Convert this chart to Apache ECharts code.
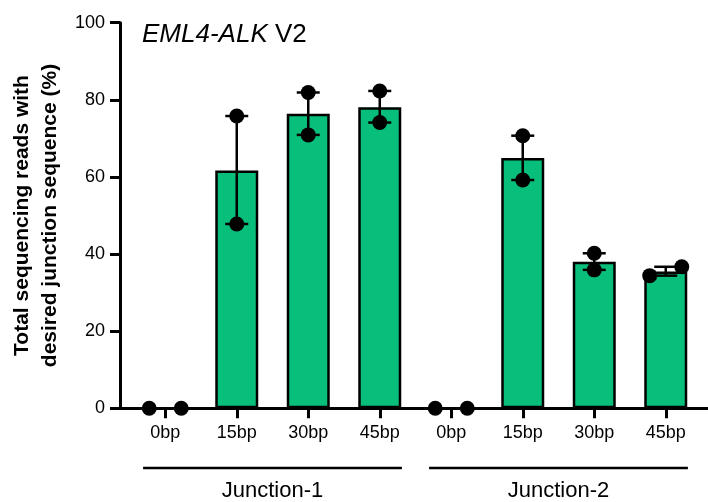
<!DOCTYPE html>
<html><head><meta charset="utf-8">
<script src="https://cdn.jsdelivr.net/npm/echarts@6/dist/echarts.min.js"></script>
<style>html,body{margin:0;padding:0;background:#fff}#c{width:708px;height:502px}</style>
</head><body><div id="c"></div>
<script>
// ---- data ----
const categories = ['0bp','15bp','30bp','45bp','0bp','15bp','30bp','45bp'];
const groupNames = ['Junction-1','Junction-2'];
const groupStart = [0, 4];
const groupEnd = [3, 7];
const means = [0, 61.7, 76.4, 78.1, 0, 64.9, 38.0, 35.5];
const rep1 = [0, 75.8, 81.9, 82.3, 0, 70.7, 40.2, 34.4];
const rep2 = [0, 47.8, 70.9, 74.1, 0, 59.2, 35.9, 36.7];
const yTicks = [0, 20, 40, 60, 80, 100];
const titleItalic = 'EML4-ALK';
const titleRest = ' V2';
const yName = 'Total sequencing reads with\ndesired junction sequence (%)';

const FONT = '"Liberation Sans", Arial, sans-serif';
const chart = echarts.init(document.getElementById('c'));

const barData = means.map((v, i) => [i, v]);
const errData = means.map((v, i) => [i, Math.min(rep1[i], rep2[i]), Math.max(rep1[i], rep2[i])]);
const JIT = 0.224;
const dots = [];
rep1.forEach((a, i) => {
  const b = rep2[i];
  const lo = Math.min(a, b), hi = Math.max(a, b);
  if (hi - lo < 4) { dots.push([i - JIT, lo], [i + JIT, hi]); }
  else { dots.push([i, a], [i, b]); }
});

const GT = 22.7, GB = 93.7;
chart.setOption({
  animation: false,
  backgroundColor: '#fff',
  grid: [
    {left: 117, right: 0, top: GT, bottom: GB},
    {left: 129.5, right: 6.5, top: GT, bottom: GB}
  ],
  xAxis: [
    {gridIndex: 0, type: 'value', min: 0, max: 1,
     axisLine: {show: true, onZero: false, lineStyle: {color: '#000', width: 3}},
     axisTick: {show: false}, axisLabel: {show: false}, splitLine: {show: false}},
    {gridIndex: 1, type: 'category', data: categories, boundaryGap: true,
     axisLine: {show: false},
     axisTick: {show: true, alignWithLabel: true, length: 10, lineStyle: {color: '#000', width: 3}},
     axisLabel: {color: '#000', fontSize: 18, fontFamily: FONT, margin: 16, interval: 0},
     splitLine: {show: false}},
    {gridIndex: 1, type: 'value', min: -0.5, max: categories.length - 0.5, show: false}
  ],
  yAxis: [
    {gridIndex: 0, type: 'value', min: yTicks[0], max: yTicks[yTicks.length - 1], interval: yTicks[1] - yTicks[0],
     axisLine: {show: true, onZero: false, lineStyle: {color: '#000', width: 3}},
     axisTick: {show: true, length: 10, lineStyle: {color: '#000', width: 3}},
     axisLabel: {color: '#000', fontSize: 18, fontFamily: FONT, margin: 15},
     splitLine: {show: false},
     name: yName, nameLocation: 'middle', nameGap: 56,
     nameTextStyle: {color: '#000', fontSize: 21, fontWeight: 'bold', fontFamily: FONT, lineHeight: 28}},
    {gridIndex: 1, type: 'value', min: yTicks[0], max: yTicks[yTicks.length - 1], show: false}
  ],
  series: [
    {type: 'bar', xAxisIndex: 2, yAxisIndex: 1, data: barData, barWidth: 43, z: 2,
     itemStyle: {color: '#07BF7B', borderColor: '#000', borderWidth: 2.5}},
    {type: 'custom', xAxisIndex: 2, yAxisIndex: 1, data: errData, z: 3,
     encode: {x: 0, y: [1, 2]},
     renderItem: function (params, api) {
       const i = api.value(0), lo = api.value(1), hi = api.value(2);
       if (hi - lo <= 0) return null;
       const pLo = api.coord([i, lo]), pHi = api.coord([i, hi]);
       const c = 11.5;
       const st = {stroke: '#000', lineWidth: 2.5};
       return {type: 'group', children: [
         {type: 'line', shape: {x1: pLo[0], y1: pLo[1], x2: pHi[0], y2: pHi[1]}, style: st},
         {type: 'line', shape: {x1: pHi[0] - c, y1: pHi[1], x2: pHi[0] + c, y2: pHi[1]}, style: st},
         {type: 'line', shape: {x1: pLo[0] - c, y1: pLo[1], x2: pLo[0] + c, y2: pLo[1]}, style: st}
       ]};
     }},
    {type: 'scatter', xAxisIndex: 2, yAxisIndex: 1, data: dots, symbolSize: 15, z: 4,
     itemStyle: {color: '#000', opacity: 1}}
  ]
});

// group annotations and title
const PAD = 0.31;
const LINE_Y = 468, LABEL_Y = 491;
const gfx = [{
  type: 'text', x: 142, y: 35, z: 10,
  style: {text: '{i|' + titleItalic + '}' + titleRest, fill: '#000', font: '26px ' + FONT,
          verticalAlign: 'middle', align: 'left',
          rich: {i: {fontStyle: 'italic', fontSize: 26, fontFamily: FONT, fill: '#000'}}}
}];
groupNames.forEach((g, k) => {
  const x1 = chart.convertToPixel({xAxisIndex: 2}, groupStart[k] - PAD);
  const x2 = chart.convertToPixel({xAxisIndex: 2}, groupEnd[k] + PAD);
  gfx.push({type: 'line', shape: {x1: x1, y1: LINE_Y, x2: x2, y2: LINE_Y}, style: {stroke: '#000', lineWidth: 2.5}});
  gfx.push({type: 'text', x: (x1 + x2) / 2, y: LABEL_Y,
    style: {text: g, fill: '#000', font: '22px ' + FONT, align: 'center', verticalAlign: 'middle'}});
});
chart.setOption({graphic: gfx});
</script>
</body></html>
